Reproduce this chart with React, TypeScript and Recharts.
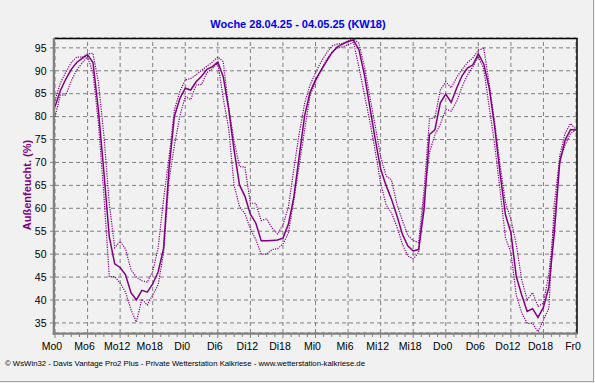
import React from 'react';
import { LineChart, Line, XAxis, YAxis, CartesianGrid, ReferenceLine } from 'recharts';

const chartTitle = 'Woche 28.04.25 - 04.05.25 (KW18)';
const yAxisTitle = 'Außenfeucht.  (%)';
const footerText = '© WsWin32  -  Davis Vantage Pro2 Plus  -  Private Wetterstation Kalkriese - www.wetterstation-kalkriese.de';

const xLabels = ['Mo0', 'Mo6', 'Mo12', 'Mo18', 'Di0', 'Di6', 'Di12', 'Di18', 'Mi0', 'Mi6', 'Mi12', 'Mi18', 'Do0', 'Do6', 'Do12', 'Do18', 'Fr0'];
const majorHours = [0, 6, 12, 18, 24, 30, 36, 42, 48, 54, 60, 66, 72, 78, 84, 90, 96];
const yTicks = [35, 40, 45, 50, 55, 60, 65, 70, 75, 80, 85, 90, 95];

// hourly values, Mo 0:00 .. Fr 0:00
const humidityAvg = [
  82.2, 85.7, 88.2, 90.3, 91.8, 92.7, 93.5, 91.8, 81.4, 68.0,
  53.8, 47.9, 47.1, 45.5, 41.6, 40.0, 42.1, 41.7, 43.5, 46.1,
  51.2, 68.6, 80.1, 83.9, 86.2, 85.8, 87.6, 88.8, 90.3, 90.9,
  91.9, 88.7, 81.7, 72.7, 65.1, 62.6, 58.7, 56.8, 52.9, 52.9,
  53.0, 53.1, 53.5, 56.5, 62.4, 71.4, 80.2, 85.3, 88.0, 90.1,
  92.0, 93.9, 95.2, 95.8, 96.4, 96.7, 94.6, 89.2, 82.2, 75.1,
  68.6, 65.0, 62.0, 58.4, 54.4, 51.8, 50.7, 51.0, 59.7, 76.1,
  77.1, 83.0, 84.9, 83.1, 86.2, 88.9, 90.6, 91.3, 93.7, 91.5,
  86.3, 77.9, 67.7, 58.6, 54.7, 45.1, 41.1, 37.5, 38.1, 36.2,
  38.4, 42.8, 54.6, 70.0, 74.9, 77.2, 77.1,
];
const humidityMax = [
  83.5, 87.4, 89.7, 91.8, 93.0, 93.0, 93.7, 93.8, 87.5, 76.0,
  61.1, 51.4, 52.8, 51.1, 46.6, 45.0, 44.2, 43.9, 46.2, 51.3,
  61.9, 71.0, 81.5, 85.5, 88.0, 88.3, 89.1, 90.1, 91.0, 91.9,
  93.0, 92.0, 81.9, 74.7, 69.1, 69.0, 61.1, 61.1, 57.3, 57.7,
  55.7, 54.4, 56.4, 60.2, 68.5, 76.3, 82.9, 86.9, 89.6, 91.9,
  93.8, 95.4, 95.8, 96.0, 96.5, 97.0, 96.0, 91.0, 84.4, 78.0,
  71.3, 67.1, 66.2, 60.9, 57.4, 54.1, 53.0, 52.5, 64.0, 79.5,
  79.8, 85.8, 87.6, 86.3, 88.5, 90.3, 91.8, 92.8, 94.5, 94.9,
  87.2, 78.9, 69.5, 61.2, 57.7, 52.1, 44.4, 40.0, 41.6, 38.6,
  39.3, 45.7, 57.1, 71.5, 76.4, 78.5, 77.1,
];
const humidityMin = [
  80.0, 84.7, 84.7, 87.8, 90.2, 91.7, 93.1, 89.5, 78.6, 63.0,
  45.1, 45.1, 43.7, 41.7, 37.9, 35.2, 40.2, 38.9, 41.1, 43.3,
  50.2, 66.0, 73.7, 80.1, 84.4, 83.7, 86.9, 87.0, 89.6, 90.5,
  91.7, 84.0, 77.4, 65.0, 60.4, 58.8, 55.5, 53.2, 50.0, 50.0,
  51.0, 51.2, 52.2, 54.6, 61.7, 69.4, 77.1, 84.6, 87.5, 90.0,
  92.4, 94.0, 95.0, 95.2, 95.7, 96.2, 90.8, 84.9, 79.0, 72.5,
  65.5, 60.8, 59.0, 56.0, 52.2, 49.6, 49.0, 50.3, 62.0, 72.2,
  76.0, 78.3, 81.6, 81.2, 83.3, 86.5, 89.1, 90.9, 93.1, 90.4,
  82.1, 74.0, 64.0, 53.6, 50.4, 41.0, 37.2, 34.9, 34.9, 33.1,
  35.6, 38.2, 61.1, 70.6, 73.8, 76.4, 77.1,
];

const chartData = humidityAvg.map((v, i) => ({
  h: i,
  avg: v,
  max: humidityMax[i],
  min: humidityMin[i],
}));

const minorTicks = Array.from({ length: 65 }, (_, i) => i * 1.5);

const FONT = '"Liberation Sans", Arial, sans-serif';
const PURPLE = '#800080';
const GRID = '#808080';
const BG = '#f1f1f1';

const XTick = (props: any) => {
  const { x, y, payload } = props;
  const v = payload.value as number;
  const isMajor = Math.abs(v % 6) < 1e-6;
  const idx = Math.round(v / 6);
  return (
    <g>
      <line x1={x} y1={y + 1} x2={x} y2={y + (isMajor ? 5 : 4)} stroke={GRID} strokeWidth={1} />
      {isMajor && (
        <text x={x - 3} y={y + 17} textAnchor="middle" fontSize={10.5} fontFamily={FONT} fill="#000">
          {xLabels[idx]}
        </text>
      )}
    </g>
  );
};

export default function App() {
  return (
    <div style={{ position: 'absolute', left: 0, top: 0, width: 595, height: 383, background: BG, overflow: 'hidden' }}>
      <LineChart width={595} height={383} data={chartData} margin={{ top: 38, right: 19, bottom: 30, left: 0 }}>
        <CartesianGrid vertical={false} stroke={GRID} strokeDasharray="4 3" />
        {majorHours.map((h) => (
          <ReferenceLine key={h} x={h} stroke={GRID} strokeDasharray="4 3" />
        ))}
        <XAxis
          type="number"
          dataKey="h"
          domain={[0, 96]}
          ticks={minorTicks}
          interval={0}
          tick={<XTick />}
          tickLine={false}
          axisLine={false}
          tickSize={0}
          tickMargin={0}
          height={20}
          allowDataOverflow
        />
        <YAxis
          type="number"
          domain={[32.8, 97.15]}
          ticks={yTicks}
          interval={0}
          axisLine={false}
          tickLine={{ stroke: GRID }}
          tickSize={5}
          tickMargin={3.5}
          width={55}
          allowDataOverflow
          tick={{ fill: '#000', fontSize: 10.5, fontFamily: FONT }}
        />
        <Line type="linear" dataKey="max" stroke={PURPLE} strokeWidth={1.2} strokeDasharray="1.2 1.2" dot={false} isAnimationActive={false} />
        <Line type="linear" dataKey="min" stroke={PURPLE} strokeWidth={1.2} strokeDasharray="1.2 1.2" dot={false} isAnimationActive={false} />
        <Line type="linear" dataKey="avg" stroke={PURPLE} strokeWidth={1.5} dot={false} isAnimationActive={false} />
      </LineChart>
      <svg width={595} height={383} style={{ position: 'absolute', left: 0, top: 0, pointerEvents: 'none' }}>
        <line x1={54} y1={38.5} x2={577.5} y2={38.5} stroke="#000" strokeWidth={1.5} />
        <line x1={577} y1={38} x2={577} y2={334} stroke="#000" strokeWidth={1.5} />
        <line x1={53.9} y1={38} x2={53.9} y2={334.7} stroke={GRID} strokeWidth={2.3} />
        <line x1={52.8} y1={333.6} x2={577.5} y2={333.6} stroke={GRID} strokeWidth={2.3} />
        <line x1={593.5} y1={0} x2={593.5} y2={382} stroke="#a0a0a0" strokeWidth={1} />
        <line x1={0} y1={381.5} x2={594} y2={381.5} stroke="#a0a0a0" strokeWidth={1} />
        <text x={298} y={28} textAnchor="middle" fontSize={11} fontWeight="bold" fontFamily={FONT} fill="#0000ee">
          {chartTitle}
        </text>
        <text
          x={0}
          y={0}
          transform="translate(27,185) rotate(-90)"
          textAnchor="middle"
          dominantBaseline="central"
          fontSize={11}
          fontWeight="bold"
          fontFamily={FONT}
          fill={PURPLE}
        >
          {yAxisTitle}
        </text>
        <text x={5} y={366} fontSize={6.5} fontFamily={FONT} fill="#000" textLength={360} lengthAdjust="spacingAndGlyphs">
          {footerText}
        </text>
      </svg>
    </div>
  );
}
